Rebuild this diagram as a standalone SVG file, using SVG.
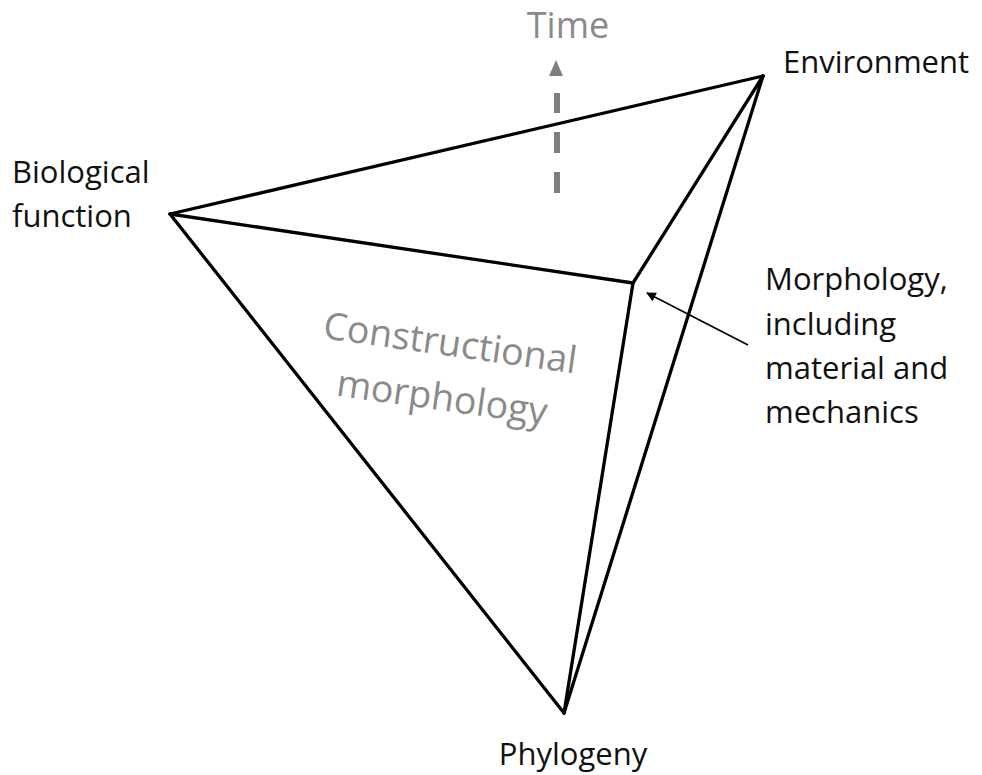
<svg xmlns="http://www.w3.org/2000/svg" width="982" height="775" viewBox="0 0 982 775">
<style>
.lbl{font-family:"Open Sans","Liberation Sans",sans-serif;font-size:31px;fill:#111}
.gray{font-family:"Open Sans","Liberation Sans",sans-serif;fill:#8a8a8a}
.edge{stroke:#000;stroke-width:3.3;fill:none;stroke-linejoin:round;stroke-linecap:round}
</style>
<defs>
<marker id="ah" viewBox="0 0 10 10" refX="9" refY="5" markerWidth="7" markerHeight="6" orient="auto" markerUnits="strokeWidth">
<path d="M0,0 L10,5 L0,10 z" fill="#000"/>
</marker>
</defs>
<rect width="982" height="775" fill="#fff"/>
<g id="connectors">
<line class="edge" x1="170" y1="214" x2="763" y2="76"/>
<line class="edge" x1="170" y1="214" x2="633" y2="283"/>
<line class="edge" x1="170" y1="214" x2="564" y2="713"/>
<line class="edge" x1="763" y1="76" x2="633" y2="283"/>
<line class="edge" x1="763" y1="76" x2="564" y2="713"/>
<line class="edge" x1="633" y1="283" x2="564" y2="713"/>
<line x1="748" y1="345" x2="647" y2="293" stroke="#000" stroke-width="1.6" marker-end="url(#ah)"/>
<line x1="557" y1="193" x2="557" y2="93" stroke="#7f7f7f" stroke-width="6" stroke-dasharray="21 19"/>
<path d="M556,60 L563,76 L549,76 z" fill="#7f7f7f"/>
</g>
<g id="time"><text class="gray" x="568" y="38" font-size="36" text-anchor="middle">Time</text></g>
<g id="environment"><text class="lbl" x="783" y="73">Environment</text></g>
<g id="biological-function"><text class="lbl" x="12" y="183">Biological</text><text class="lbl" x="12" y="227">function</text></g>
<g id="morphology"><text class="lbl" x="765" y="290">Morphology,</text><text class="lbl" x="765" y="335">including</text><text class="lbl" x="765" y="379">material and</text><text class="lbl" x="765" y="423">mechanics</text></g>
<g id="phylogeny"><text class="lbl" x="573" y="765" text-anchor="middle">Phylogeny</text></g>
<g id="constructional-morphology" transform="rotate(8 322 338)"><text class="gray" font-size="37.5" x="322" y="338">Constructional</text><text class="gray" font-size="37.5" x="343" y="393">morphology</text></g>
</svg>
